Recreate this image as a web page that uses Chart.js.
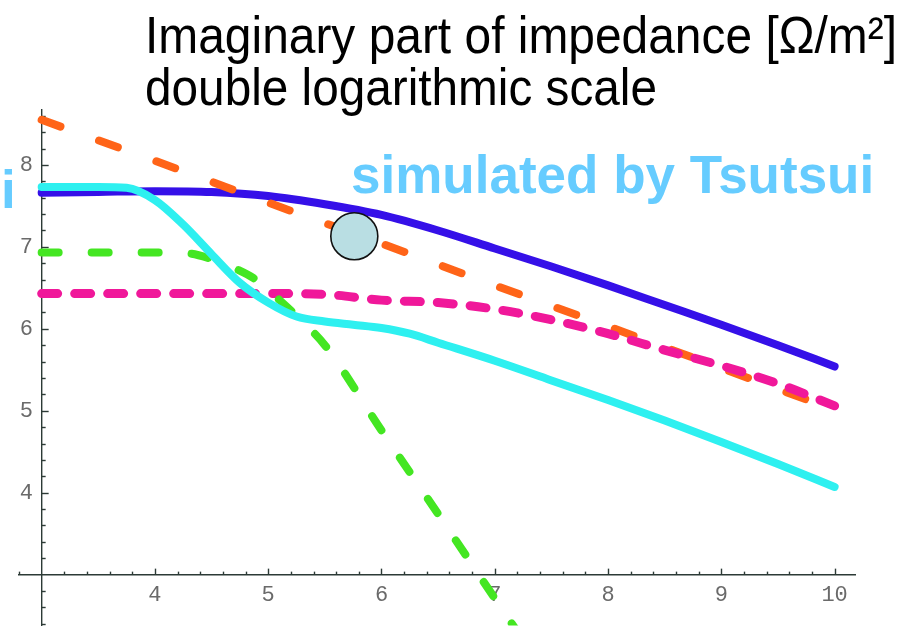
<!DOCTYPE html>
<html>
<head>
<meta charset="utf-8">
<script src="https://cdn.jsdelivr.net/npm/chart.js@4.4.1/dist/chart.umd.min.js"></script>
<style>
  html, body { margin: 0; padding: 0; background: #fff; }
</style>
</head>
<body>
<canvas id="impedance" width="913" height="626"></canvas>
<script>
// values (log10 scale on both axes)
const blueX = [3, 3.5, 4, 4.5, 5, 5.5, 6, 6.5, 7, 7.5, 8, 8.5, 9, 9.5, 10];
const blueY = [7.66, 7.67, 7.68, 7.67, 7.62, 7.52, 7.39, 7.2, 6.98, 6.76, 6.53, 6.29, 6.05, 5.8, 5.54];

const cyanX = [3, 3.5, 3.75, 4, 4.25, 4.5, 4.75, 5, 5.25, 5.5, 5.75, 6, 6.25, 6.5, 7, 7.5, 8, 8.5, 9, 9.5, 10];
const cyanY = [7.73, 7.73, 7.72, 7.57, 7.27, 6.91, 6.56, 6.32, 6.15, 6.09, 6.05, 6.01, 5.94, 5.83, 5.61, 5.37, 5.13, 4.88, 4.62, 4.35, 4.07];

const orangeX = [3, 4, 5, 6, 7, 8, 9, 10];
const orangeY = [8.55, 8.05, 7.54, 7.04, 6.53, 6.03, 5.52, 5.01];

const pinkX = [3, 4, 5, 5.5, 6, 6.5, 7, 7.5, 8, 8.5, 9, 9.5, 10];
const pinkY = [6.43, 6.43, 6.43, 6.42, 6.35, 6.32, 6.24, 6.11, 5.94, 5.74, 5.55, 5.33, 5.06];

const greenX = [3, 4, 4.3, 4.5, 4.7, 4.9, 5.1, 5.3, 5.5, 6, 6.5, 7, 7.3];
const greenY = [6.93, 6.93, 6.92, 6.85, 6.74, 6.59, 6.35, 6.09, 5.8, 4.76, 3.74, 2.71, 2.1];

const markerX = [5.76];
const markerY = [7.13];

const xTickLabels = [4, 5, 6, 7, 8, 9, 10];
const yTickLabels = [4, 5, 6, 7, 8];

const axisColor = '#2c3a36';

function pts(xs, ys) {
    return xs.map((x, i) => ({ x: x, y: ys[i] }));
}

function onStep(v) {
    return Math.abs(v * 5 - Math.round(v * 5)) < 1e-6;
}

function r3(v) {
    return Math.round(v * 1000) / 1000;
}

// Mathematica style ticks, pointing into the plot
const axisTicks = {
    id: 'axisTicks',
    beforeDatasetsDraw(chart) {
        const { ctx } = chart;
        const xs = chart.scales.x;
        const ys = chart.scales.y;
        const x0 = xs.getPixelForValue(3);
        const y0 = ys.getPixelForValue(3);
        ctx.save();
        ctx.strokeStyle = axisColor;
        ctx.lineWidth = 1.4;
        xs.ticks.forEach((t) => {
            if (!onStep(t.value) || Math.abs(t.value - 3) < 1e-6) return;
            const px = Math.round(xs.getPixelForValue(t.value)) + 0.5;
            const len = Number.isInteger(r3(t.value)) ? 6 : 3;
            ctx.beginPath();
            ctx.moveTo(px, y0);
            ctx.lineTo(px, y0 - len);
            ctx.stroke();
        });
        ys.ticks.forEach((t) => {
            if (!onStep(t.value) || Math.abs(t.value - 3) < 1e-6) return;
            const py = Math.round(ys.getPixelForValue(t.value)) + 0.5;
            const len = Number.isInteger(r3(t.value)) ? 7 : 4;
            ctx.beginPath();
            ctx.moveTo(x0, py);
            ctx.lineTo(x0 + len, py);
            ctx.stroke();
        });
        ctx.restore();
    },
};

const slideText = {
    id: 'slideText',
    afterDraw(chart) {
        const { ctx } = chart;
        ctx.save();
        ctx.textBaseline = 'alphabetic';
        ctx.textAlign = 'left';
        ctx.fillStyle = '#000';
        ctx.font = '52px "Liberation Sans", Arial, sans-serif';
        ctx.fillText('Imaginary part of impedance [\u03A9/m\u00B2]', 145, 53, 752);
        ctx.fillText('double logarithmic scale', 145, 105, 512);
        ctx.fillStyle = '#66ccff';
        ctx.font = 'bold 53px "Liberation Sans", Arial, sans-serif';
        ctx.fillText('simulated by Tsutsui', 351, 193);
        ctx.fillText('i', 1, 208);
        ctx.restore();
    },
};

const lineBase = {
    pointRadius: 0,
    pointHoverRadius: 0,
    fill: false,
    cubicInterpolationMode: 'monotone',
    borderCapStyle: 'round',
    borderJoinStyle: 'round',
};

new Chart(document.getElementById('impedance'), {
    type: 'line',
    data: {
        datasets: [
            {
                label: 'marker',
                data: pts(markerX, markerY),
                showLine: false,
                pointRadius: 23.5,
                pointBackgroundColor: '#b9dee3',
                pointBorderColor: '#111',
                pointBorderWidth: 1.6,
                clip: false,
            },
            Object.assign({}, lineBase, {
                label: 'cyan',
                data: pts(cyanX, cyanY),
                borderColor: '#2ef0f0',
                borderWidth: 8,
            }),
            Object.assign({}, lineBase, {
                label: 'green',
                data: pts(greenX, greenY),
                borderColor: '#44e622',
                borderWidth: 8,
                borderDash: [17, 33],
            }),
            Object.assign({}, lineBase, {
                label: 'pink',
                data: pts(pinkX, pinkY),
                borderColor: '#f0189a',
                borderWidth: 9,
                borderDash: [16, 17],
            }),
            Object.assign({}, lineBase, {
                label: 'orange',
                data: pts(orangeX, orangeY),
                borderColor: '#ff6418',
                borderWidth: 8,
                borderDash: [20, 41],
            }),
            Object.assign({}, lineBase, {
                label: 'blue',
                data: pts(blueX, blueY),
                borderColor: '#3510e8',
                borderWidth: 8,
            }),
        ],
    },
    options: {
        responsive: false,
        animation: false,
        layout: {
            autoPadding: false,
            padding: { left: 19, right: 58, top: 110, bottom: 0 },
        },
        plugins: {
            legend: { display: false },
            tooltip: { enabled: false },
        },
        scales: {
            x: {
                type: 'linear',
                position: { y: 3 },
                min: 2.8,
                max: 10.18,
                grid: { drawOnChartArea: false, drawTicks: false },
                border: { display: true, color: axisColor, width: 1.4 },
                ticks: {
                    stepSize: 0.2,
                    includeBounds: false,
                    autoSkip: false,
                    maxRotation: 0,
                    padding: 7,
                    color: '#6a6a6a',
                    font: { family: '"Liberation Mono", monospace', size: 22 },
                    callback: (v) => (xTickLabels.includes(r3(v)) ? String(r3(v)) : ''),
                },
            },
            y: {
                type: 'linear',
                position: { x: 3 },
                min: 2.38,
                max: 8.67,
                grid: { drawOnChartArea: false, drawTicks: false },
                border: { display: true, color: axisColor, width: 1.4 },
                ticks: {
                    stepSize: 0.2,
                    includeBounds: false,
                    autoSkip: false,
                    padding: 0,
                    color: '#6a6a6a',
                    font: { family: '"Liberation Mono", monospace', size: 22, lineHeight: 0.05 },
                    // thin spaces keep the digits off the axis line
                    callback: (v) => (yTickLabels.includes(r3(v)) ? String(r3(v)) + '\u2009\u2009' : ''),
                },
            },
        },
    },
    plugins: [axisTicks, slideText],
});
</script>
</body>
</html>
